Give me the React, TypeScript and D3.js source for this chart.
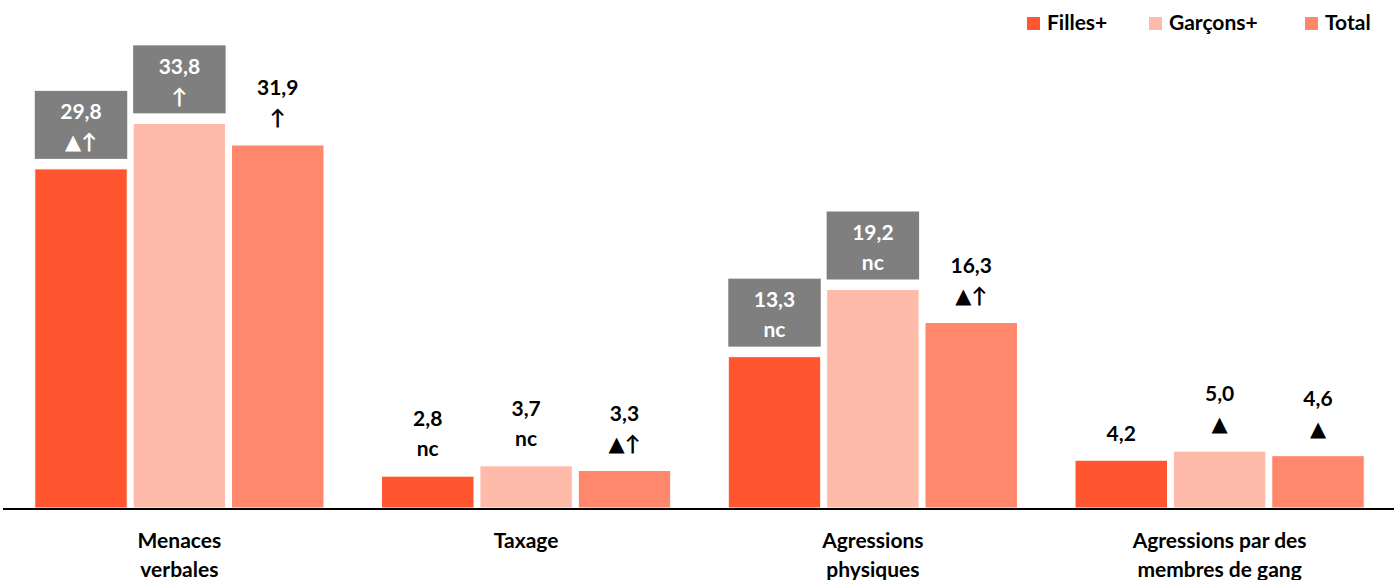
import React from "react";
import * as d3 from "d3";

const categories: string[][] = [
  ["Menaces", "verbales"],
  ["Taxage"],
  ["Agressions", "physiques"],
  ["Agressions par des", "membres de gang"],
];
const seriesNames: string[] = ["Filles+", "Garçons+", "Total"];
const filles: number[] = [29.8, 2.8, 13.3, 4.2];
const garcons: number[] = [33.8, 3.7, 19.2, 5.0];
const total: number[] = [31.9, 3.3, 16.3, 4.6];
const fillesNotes: string[] = ["▲↑", "nc", "nc", ""];
const garconsNotes: string[] = ["↑", "nc", "nc", "▲"];
const totalNotes: string[] = ["↑", "▲↑", "▲↑", "▲"];
const fillesBoxed: boolean[] = [true, false, true, false];
const garconsBoxed: boolean[] = [true, false, true, false];
const totalBoxed: boolean[] = [false, false, false, false];

const colors: string[] = ["#ff5630", "#ffbbaa", "#ff886c"];

const W = 1394;
const H = 580;
const baseY = 508;
const font = "Lato, 'Open Sans', sans-serif";

// split a note so the triangle can use a font that draws it full size
const noteParts = (t: string) =>
  Array.from(t).map((ch, i) =>
    ch === "▲" ? (
      <tspan key={i} fontFamily="'DejaVu Sans', sans-serif" fontSize={21}>
        {ch}
      </tspan>
    ) : (
      <tspan key={i}>{ch}</tspan>
    )
  );

const App: React.FC = () => {
  const keys = categories.map((c) => c.join(" "));
  const x0 = d3
    .scaleBand<string>()
    .domain(keys)
    .range([6, 1393])
    .paddingInner(0.166)
    .paddingOuter(0.083);
  const x1 = d3
    .scaleBand<string>()
    .domain(seriesNames)
    .range([0, x0.bandwidth()])
    .paddingInner(0.06);
  const y = d3.scaleLinear().domain([0, 40]).range([baseY, baseY - 40 * 11.38]);

  const series = [
    { name: seriesNames[0], values: filles, notes: fillesNotes, boxed: fillesBoxed },
    { name: seriesNames[1], values: garcons, notes: garconsNotes, boxed: garconsBoxed },
    { name: seriesNames[2], values: total, notes: totalNotes, boxed: totalBoxed },
  ];

  const fmt = (v: number) => v.toFixed(1).replace(".", ",");

  const legendX = [1027, 1149, 1305];

  return (
    <svg width={W} height={H} style={{ display: "block", position: "absolute", left: 0, top: 0 }}>
      <rect x={0} y={0} width={W} height={H} fill="#fff" />
      {keys.map((k, ci) => (
        <g key={k} transform={`translate(${x0(k)},0)`}>
          {series.map((s, si) => {
            const bx = x1(s.name) as number;
            const bw = x1.bandwidth();
            const top = y(s.values[ci]);
            const lines = [fmt(s.values[ci]), s.notes[ci]].filter((t) => t !== "");
            const boxed = s.boxed[ci];
            return (
              <g key={s.name}>
                <rect
                  x={bx}
                  y={top}
                  width={bw}
                  height={baseY - top}
                  fill={colors[si]}
                  stroke="#fff"
                  strokeWidth={1}
                />
                {boxed && (
                  <rect x={bx} y={top - 78} width={bw} height={68} fill="#7f7f7f" />
                )}
                {lines.map((t, li) => (
                  <text
                    key={li}
                    x={bx + bw / 2}
                    y={top - 27 - (lines.length - 1 - li) * 30}
                    dy="0.35em"
                    textAnchor="middle"
                    fontFamily={font}
                    fontWeight="bold"
                    fontSize={21}
                    fill={boxed ? "#fff" : "#000"}
                  >
                    {li === 0 ? t : noteParts(t)}
                  </text>
                ))}
              </g>
            );
          })}
          {categories[ci].map((line, li) => (
            <text
              key={li}
              x={x0.bandwidth() / 2}
              y={541 + li * 29}
              dy="0.35em"
              textAnchor="middle"
              fontFamily={font}
              fontWeight="bold"
              fontSize={21}
              fill="#000"
            >
              {line}
            </text>
          ))}
        </g>
      ))}
      <line x1={3} x2={W} y1={baseY + 1} y2={baseY + 1} stroke="#000" strokeWidth={2} />
      {seriesNames.map((n, i) => (
        <g key={n} transform={`translate(${legendX[i]},0)`}>
          <rect x={0} y={17} width={13} height={13} fill={colors[i]} />
          <text x={20} y={23} dy="0.35em" fontFamily={font} fontWeight="bold" fontSize={21} fill="#000">
            {n}
          </text>
        </g>
      ))}
    </svg>
  );
};

export default App;
